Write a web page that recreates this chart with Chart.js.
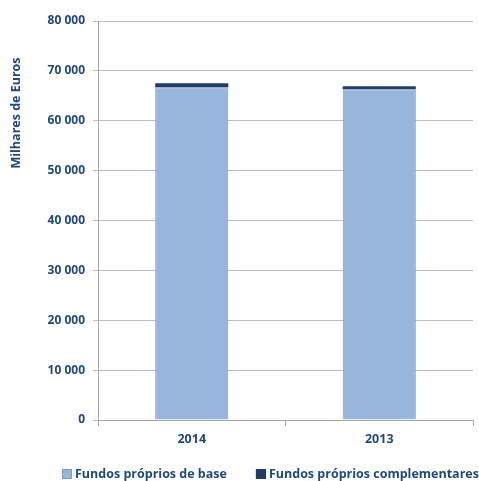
<!DOCTYPE html>
<html>
<head>
<meta charset="utf-8">
<script src="https://cdn.jsdelivr.net/npm/chart.js@4"></script>
<style>
  html, body { margin: 0; padding: 0; background: #fff; }
  #wrap { width: 479px; height: 481px; }
</style>
</head>
<body>
<div id="wrap"><canvas id="chart1" width="479" height="481"></canvas></div>
<script>
'use strict'

const categories = ['2014', '2013']
const fundosBase = [66700, 66300]
const fundosComplementares = [800, 600]
const yTicks = [0, 10000, 20000, 30000, 40000, 50000, 60000, 70000, 80000]

const BLUE_TEXT = '#1f497d'
const FONT = "'Open Sans', 'Liberation Sans', sans-serif"

const fmt = function(v) {
	return String(v).replace(/\B(?=(\d{3})+(?!\d))/g, ' ')
}

// y title sits high up on the left, not centred on the axis
const yTitle = {
	id: 'yTitle',
	afterDraw(chart) {
		const c = chart.ctx
		c.save()
		c.translate(16, 113)
		c.rotate(-Math.PI / 2)
		c.font = 'bold 12.5px ' + FONT
		c.fillStyle = BLUE_TEXT
		c.textAlign = 'center'
		c.textBaseline = 'middle'
		c.fillText('Milhares de Euros', 0, 0)
		c.restore()
	}
}

// legend drawn by hand so it can start left and run off the right edge like the original
const bottomLegend = {
	id: 'bottomLegend',
	afterDraw(chart) {
		const c = chart.ctx
		c.save()
		c.font = 'bold 12.5px ' + FONT
		c.textBaseline = 'middle'
		c.textAlign = 'left'
		let x = 62
		const y = 474
		chart.data.datasets.forEach(ds => {
			c.fillStyle = ds.backgroundColor
			c.fillRect(x, y - 5, 10, 10)
			c.strokeStyle = ds.borderColor
			c.lineWidth = 1
			c.strokeRect(x + 0.5, y - 4.5, 9, 9)
			c.fillStyle = BLUE_TEXT
			c.fillText(ds.label, x + 13, y)
			x += 13 + c.measureText(ds.label).width + 29
		})
		c.restore()
	}
}

const ctx = document.getElementById('chart1').getContext('2d')
const chart = new Chart(ctx, {
	type: 'bar',
	data: {
		labels: categories,
		datasets: [{
			label: 'Fundos próprios de base',
			data: fundosBase,
			backgroundColor: '#98b6dc',
			borderColor: '#7d99bd',
			borderWidth: 1,
			barPercentage: 0.39,
			categoryPercentage: 1
		}, {
			label: 'Fundos próprios complementares',
			data: fundosComplementares,
			backgroundColor: '#1f3d66',
			borderColor: '#1f3d66',
			borderWidth: 0,
			barPercentage: 0.39,
			categoryPercentage: 1
		}]
	},
	options: {
		responsive: false,
		animation: false,
		layout: {
			padding: { top: 21, right: 6, left: 0, bottom: 31 }
		},
		scales: {
			x: {
				stacked: true,
				afterFit(scale) { scale.height = 30 },
				grid: {
					offset: true,
					drawOnChartArea: false,
					color: '#a6a6a6',
					tickLength: 6
				},
				border: { color: '#a6a6a6' },
				ticks: {
					color: BLUE_TEXT,
					font: { family: FONT, size: 12.5, weight: 'bold' },
					padding: 6
				}
			},
			y: {
				stacked: true,
				min: 0,
				max: 80000,
				afterFit(scale) { scale.width = 98 },
				afterBuildTicks(scale) { scale.ticks = yTicks.map(v => ({ value: v })) },
				grid: { color: '#bfbfbf', tickLength: 5 },
				border: { color: '#a6a6a6' },
				ticks: {
					color: BLUE_TEXT,
					font: { family: FONT, size: 12, weight: 'bold' },
					padding: 8,
					callback: v => fmt(v)
				}
			}
		},
		plugins: {
			legend: { display: false },
			tooltip: { enabled: false }
		}
	},
	plugins: [yTitle, bottomLegend]
})
</script>
</body>
</html>
